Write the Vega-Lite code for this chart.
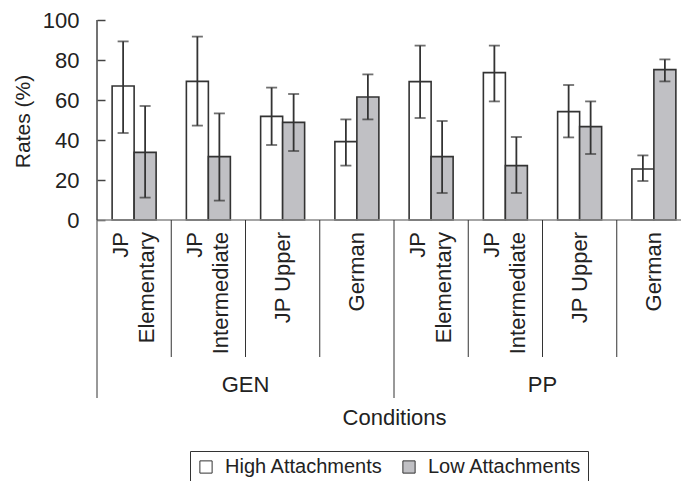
{
  "$schema": "https://vega.github.io/schema/vega-lite/v6.json",
  "width": 594,
  "height": 378,
  "autosize": {"type": "none"},
  "padding": {"left": 97, "top": 20, "right": -10, "bottom": 83},
  "background": "white",
  "config": {
    "font": "Liberation Sans",
    "view": {"stroke": null},
    "axisY": {"grid": false, "domain": false, "tickSize": -8, "tickColor": "#444", "tickWidth": 1.5, "labelFontSize": 22, "labelColor": "#222", "labelPadding": 26, "titleFontSize": 21, "titleFontWeight": "normal", "titleColor": "#222", "titleAngle": -90, "titleX": -74, "titleY": 101, "titleAlign": "center", "titleBaseline": "middle"},
    "axisX": {"labels": false, "ticks": false, "domain": false, "grid": false, "titleFontSize": 22, "titleFontWeight": "normal", "titleColor": "#222", "titlePadding": 9}
  },
  "datasets": {
    "bars": [
      {"g": "GEN JP Elementary", "series": "High Attachments", "value": 67.0, "lo": 43.5, "hi": 89.3},
      {"g": "GEN JP Elementary", "series": "Low Attachments", "value": 33.8, "lo": 11.2, "hi": 57.0},
      {"g": "GEN JP Intermediate", "series": "High Attachments", "value": 69.3, "lo": 47.2, "hi": 91.7},
      {"g": "GEN JP Intermediate", "series": "Low Attachments", "value": 31.7, "lo": 9.7, "hi": 53.3},
      {"g": "GEN JP Upper", "series": "High Attachments", "value": 51.8, "lo": 37.5, "hi": 66.2},
      {"g": "GEN JP Upper", "series": "Low Attachments", "value": 48.8, "lo": 34.5, "hi": 63.0},
      {"g": "GEN German", "series": "High Attachments", "value": 39.2, "lo": 27.2, "hi": 50.3},
      {"g": "GEN German", "series": "Low Attachments", "value": 61.5, "lo": 50.3, "hi": 72.8},
      {"g": "PP JP Elementary", "series": "High Attachments", "value": 69.2, "lo": 51.0, "hi": 87.2},
      {"g": "PP JP Elementary", "series": "Low Attachments", "value": 31.7, "lo": 13.5, "hi": 49.5},
      {"g": "PP JP Intermediate", "series": "High Attachments", "value": 73.7, "lo": 59.3, "hi": 87.2},
      {"g": "PP JP Intermediate", "series": "Low Attachments", "value": 27.2, "lo": 13.5, "hi": 41.5},
      {"g": "PP JP Upper", "series": "High Attachments", "value": 54.2, "lo": 41.3, "hi": 67.5},
      {"g": "PP JP Upper", "series": "Low Attachments", "value": 46.7, "lo": 33.0, "hi": 59.3},
      {"g": "PP German", "series": "High Attachments", "value": 25.5, "lo": 19.5, "hi": 32.3},
      {"g": "PP German", "series": "Low Attachments", "value": 75.2, "lo": 69.3, "hi": 80.3}
    ],
    "groups": [
      {"g": "GEN JP Elementary", "l1": "JP", "l2": "Elementary", "two": true, "sep": "outer", "first": true},
      {"g": "GEN JP Intermediate", "l1": "JP", "l2": "Intermediate", "two": true, "sep": "inner", "first": false},
      {"g": "GEN JP Upper", "l1": "JP Upper", "l2": "", "two": false, "sep": "inner", "first": false},
      {"g": "GEN German", "l1": "German", "l2": "", "two": false, "sep": "inner", "first": false},
      {"g": "PP JP Elementary", "l1": "JP", "l2": "Elementary", "two": true, "sep": "outer", "first": false},
      {"g": "PP JP Intermediate", "l1": "JP", "l2": "Intermediate", "two": true, "sep": "inner", "first": false},
      {"g": "PP JP Upper", "l1": "JP Upper", "l2": "", "two": false, "sep": "inner", "first": false},
      {"g": "PP German", "l1": "German", "l2": "", "two": false, "sep": "inner", "first": false}
    ],
    "conds": [
      {"g": "GEN JP Intermediate", "cond": "GEN"},
      {"g": "PP JP Intermediate", "cond": "PP"}
    ]
  },
  "layer": [
    {
      "data": {"name": "bars"},
      "mark": {"type": "bar", "stroke": "#333", "strokeWidth": 1.6},
      "encoding": {
        "x": {"field": "g", "type": "nominal", "title": "Conditions", "scale": {"domain": ["GEN JP Elementary", "GEN JP Intermediate", "GEN JP Upper", "GEN German", "PP JP Elementary", "PP JP Intermediate", "PP JP Upper", "PP German"], "paddingInner": 0, "paddingOuter": 0}},
        "xOffset": {"field": "series", "type": "nominal", "scale": {"domain": ["High Attachments", "Low Attachments"], "paddingInner": 0, "paddingOuter": 0.6875}},
        "y": {"field": "value", "type": "quantitative", "title": "Rates (%)", "scale": {"domain": [-89, 100], "nice": false, "zero": false}, "axis": {"values": [0, 20, 40, 60, 80, 100]}},
        "fill": {"field": "series", "type": "nominal", "scale": {"domain": ["High Attachments", "Low Attachments"], "range": ["#ffffff", "#c0c0c4"]},
          "legend": {"orient": "none", "legendX": 93, "legendY": 431, "direction": "horizontal", "title": null, "strokeColor": "#333", "padding": 6, "symbolType": "square", "symbolSize": 150, "symbolStrokeColor": "#333", "symbolStrokeWidth": 1, "labelFontSize": 20, "labelColor": "#222", "labelOffset": 9, "columnPadding": 16}}
      }
    },
    {
      "data": {"name": "bars"},
      "mark": {"type": "rule", "color": "#333", "strokeWidth": 1.8},
      "encoding": {
        "x": {"field": "g", "type": "nominal", "title": "Conditions"},
        "xOffset": {"field": "series", "type": "nominal"},
        "y": {"field": "lo", "type": "quantitative", "title": "Rates (%)"},
        "y2": {"field": "hi"}
      }
    },
    {
      "data": {"name": "bars"},
      "mark": {"type": "tick", "color": "#333", "thickness": 1.8, "size": 11},
      "encoding": {
        "x": {"field": "g", "type": "nominal", "title": "Conditions"},
        "xOffset": {"field": "series", "type": "nominal"},
        "y": {"field": "lo", "type": "quantitative", "title": "Rates (%)"}
      }
    },
    {
      "data": {"name": "bars"},
      "mark": {"type": "tick", "color": "#333", "thickness": 1.8, "size": 11},
      "encoding": {
        "x": {"field": "g", "type": "nominal", "title": "Conditions"},
        "xOffset": {"field": "series", "type": "nominal"},
        "y": {"field": "hi", "type": "quantitative", "title": "Rates (%)"}
      }
    },
    {
      "data": {"values": [{}]},
      "mark": {"type": "rule", "color": "#888", "strokeWidth": 1.5},
      "encoding": {"y": {"datum": 0}}
    },
    {
      "data": {"name": "groups"},
      "transform": [{"filter": "datum.sep === 'inner'"}],
      "mark": {"type": "rule", "color": "#333", "strokeWidth": 1},
      "encoding": {
        "x": {"field": "g", "type": "nominal", "title": "Conditions", "bandPosition": 0},
        "y": {"datum": 0},
        "y2": {"datum": -68.5}
      }
    },
    {
      "data": {"name": "groups"},
      "transform": [{"filter": "datum.sep === 'outer'"}],
      "mark": {"type": "rule", "color": "#333", "strokeWidth": 1},
      "encoding": {
        "x": {"field": "g", "type": "nominal", "title": "Conditions", "bandPosition": 0},
        "y": {"datum": 0},
        "y2": {"datum": -89}
      }
    },
    {
      "data": {"name": "groups"},
      "transform": [{"filter": "datum.first"}],
      "mark": {"type": "rule", "color": "#444", "strokeWidth": 1.5},
      "encoding": {
        "x": {"field": "g", "type": "nominal", "title": "Conditions", "bandPosition": 0},
        "y": {"datum": 0},
        "y2": {"datum": 100}
      }
    },
    {
      "data": {"name": "groups"},
      "transform": [{"filter": "!datum.two"}],
      "mark": {"type": "text", "angle": 270, "align": "right", "baseline": "middle", "fontSize": 22, "color": "#222"},
      "encoding": {
        "x": {"field": "g", "type": "nominal", "title": "Conditions"},
        "y": {"datum": -6},
        "text": {"field": "l1"}
      }
    },
    {
      "data": {"name": "groups"},
      "transform": [{"filter": "datum.two"}],
      "mark": {"type": "text", "angle": 270, "align": "right", "baseline": "middle", "fontSize": 22, "color": "#222", "dy": -13},
      "encoding": {
        "x": {"field": "g", "type": "nominal", "title": "Conditions"},
        "y": {"datum": -6},
        "text": {"field": "l1"}
      }
    },
    {
      "data": {"name": "groups"},
      "transform": [{"filter": "datum.two"}],
      "mark": {"type": "text", "angle": 270, "align": "right", "baseline": "middle", "fontSize": 22, "color": "#222", "dy": 13},
      "encoding": {
        "x": {"field": "g", "type": "nominal", "title": "Conditions"},
        "y": {"datum": -6},
        "text": {"field": "l2"}
      }
    },
    {
      "data": {"name": "conds"},
      "mark": {"type": "text", "align": "center", "baseline": "middle", "fontSize": 22, "color": "#222"},
      "encoding": {
        "x": {"field": "g", "type": "nominal", "title": "Conditions", "bandPosition": 1},
        "y": {"datum": -82.5},
        "text": {"field": "cond"}
      }
    }
  ]
}
